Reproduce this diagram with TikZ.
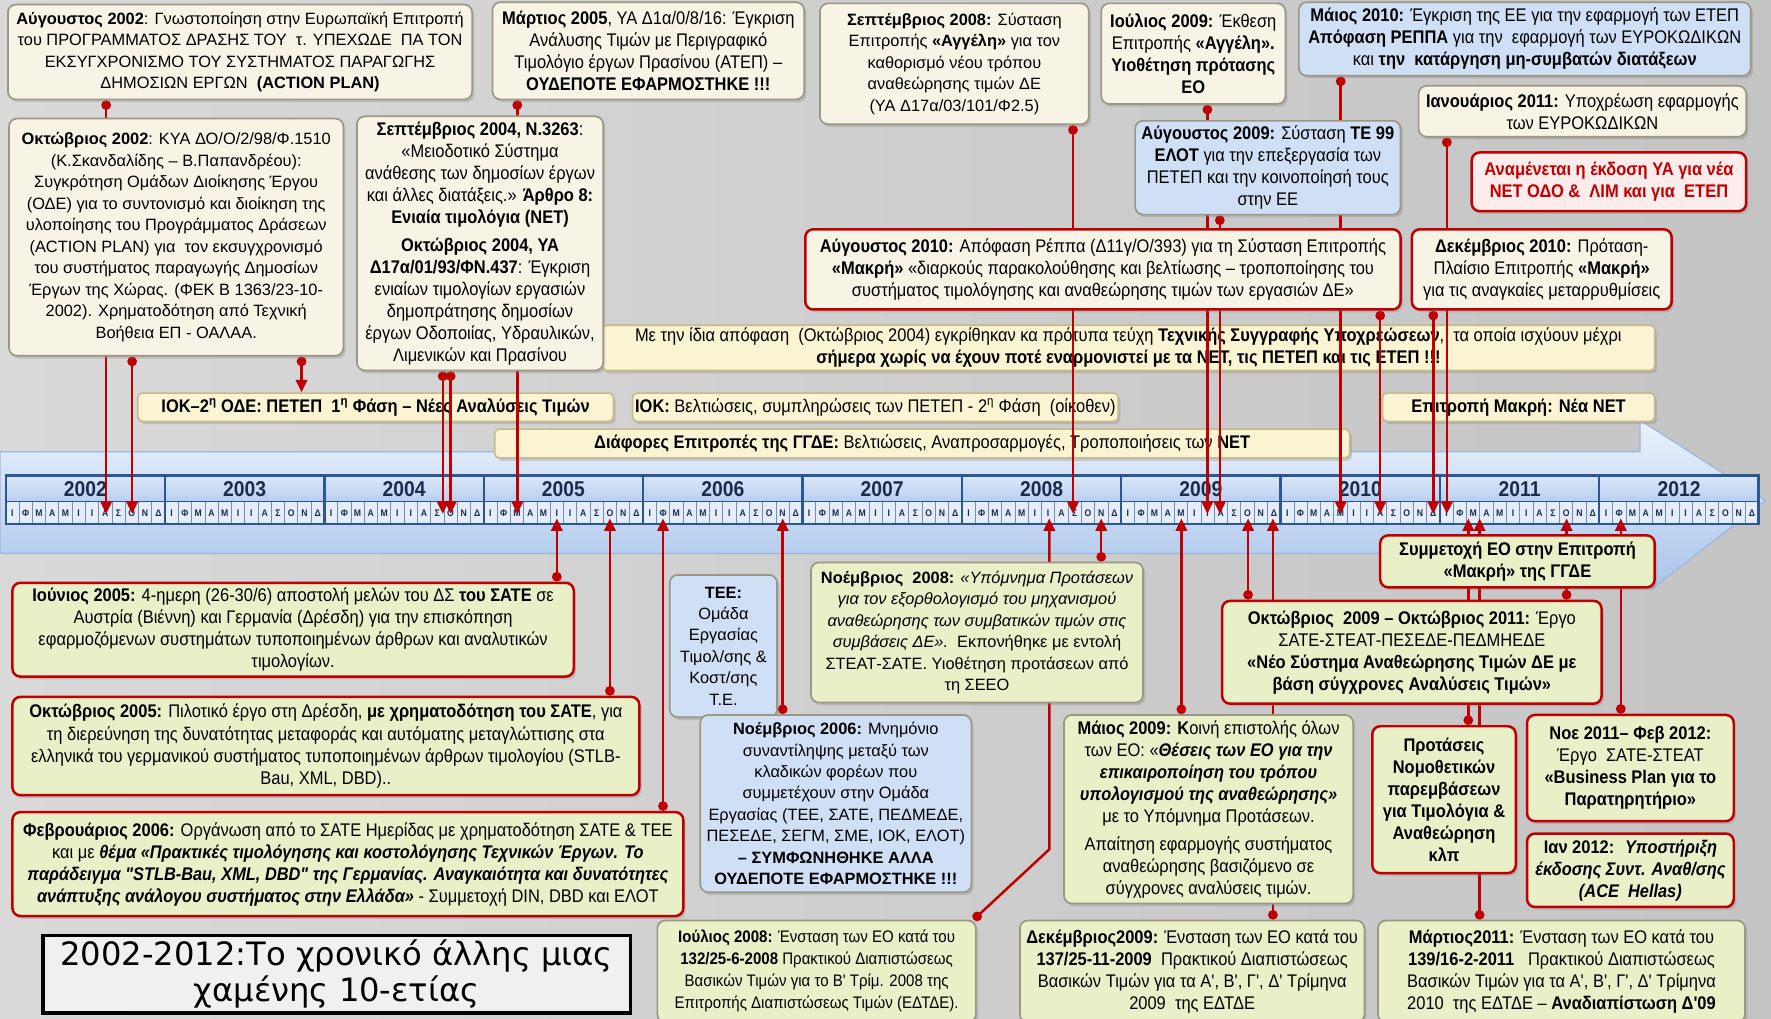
\documentclass[tikz,border=0pt]{standalone}
\usepackage{fontspec}
\setmainfont{Liberation Sans}
\newfontfamily\nar{Liberation Sans}[FakeStretch=0.9]
\newfontfamily\narbi{Liberation Sans}[FakeStretch=0.895]
\newfontfamily\ttlfont{DejaVu Sans}
\usetikzlibrary{arrows.meta,shadows}
\definecolor{redL}{HTML}{C00000}
\definecolor{bgL}{HTML}{D9D9D9}
\definecolor{bgM}{HTML}{F3F3F3}
\definecolor{bgR}{HTML}{C4C4C4}
\definecolor{creamF}{HTML}{F7F4E6}
\definecolor{greyB}{HTML}{9B9784}
\definecolor{blueF}{HTML}{CFE0F6}
\definecolor{greenF}{HTML}{E9F0C7}
\definecolor{barF}{HTML}{FBF4D2}
\definecolor{barB}{HTML}{C6B98A}
\definecolor{pinkF}{HTML}{FDECEC}
\definecolor{tlTop}{HTML}{EAF2FC}
\definecolor{tlBot}{HTML}{A9C4EA}
\definecolor{tlEdge}{HTML}{9AB6E0}
\definecolor{yrTop}{HTML}{DBE7F8}
\definecolor{yrBot}{HTML}{B9CFF0}
\definecolor{moF}{HTML}{E4EDF9}
\definecolor{navy}{HTML}{1B2A4F}
\definecolor{sepC}{HTML}{2B5797}
\definecolor{moLine}{HTML}{6F8FC0}
\newcommand\fs[2]{\fontsize{#1}{#2}\selectfont}
\newcommand\bfit[1]{{\narbi\bfseries\itshape #1}}
\pgfdeclarelayer{bgl}
\pgfdeclarelayer{barl}
\pgfdeclarelayer{linel}
\pgfsetlayers{bgl,barl,linel,main}
\begin{document}
\begin{tikzpicture}[x=1pt,y=-1pt,
  box/.style={rounded corners=7pt, line width=1.5pt, align=center, inner sep=1pt,
    drop shadow={opacity=0.3,shadow xshift=2pt,shadow yshift=-2.5pt}},
  cream/.style={box, fill=creamF, draw=greyB},
  blueb/.style={box, fill=blueF, draw=greyB},
  greenG/.style={box, fill=greenF, draw=greyB},
  greenR/.style={box, fill=greenF, draw=redL, line width=2.2pt},
  creamR/.style={box, fill=creamF, draw=redL, line width=2.2pt},
  bar/.style={box, rounded corners=4pt, fill=barF, draw=barB, line width=1.4pt},
  rg/.style={font=\fs{14.5}{19}},
  nr/.style={font=\nar\fs{16.2}{19.5}},
  con/.style={draw=redL, line width=2.2pt},
  arr/.style={con, {Circle[length=8.5pt]}-{Triangle[width=10pt,length=11pt]}},
  mo/.style={font=\nar\bfseries\fs{8.5}{8.5}, text=navy, inner sep=0pt},
  yr/.style={font=\nar\bfseries\fs{19}{19}, text=navy, inner sep=0pt},
  sep/.style={draw=sepC, line width=2pt}
]
\useasboundingbox (0,0) rectangle (1568,902);

\begin{pgfonlayer}{bgl}
\shade[left color=bgL, middle color=bgM, right color=bgR] (0,0) rectangle (1568,902);
\shade[top color=tlTop, bottom color=tlBot, draw=tlEdge, line width=1pt]
  (0,400) -- (1452,400) -- (1452,372) -- (1563,443) -- (1462,522) -- (1462,490) -- (0,490) -- cycle;
\shade[top color=yrTop, bottom color=yrBot] (5,421) rectangle (1557,444);
\fill[moF] (5,444) rectangle (1557,464);
\foreach \i in {1,...,131} \draw[moLine, line width=0.6pt] ({5+\i*11.758},444) -- ++(0,20);
\foreach \y in {0,...,10} {
  \foreach \m/\l in {1/Ι,2/Φ,3/Μ,4/Α,5/Μ,6/Ι,7/Ι,8/Α,9/Σ,10/Ο,11/Ν,12/Δ}
    \node[mo] (m\y-\m) at ({5+\y*141.1+(\m-0.5)*11.758},454.5) {\l};
}
\foreach \y/\yr in {0/2002,1/2003,2/2004,3/2005,4/2006,5/2007,6/2008,7/2009,8/2010,9/2011,10/2012}
  \node[yr] (y\yr) at ({5+\y*141.1+70.55},433) {\yr};
\draw[sepC, line width=1pt] (5,444) -- (1557,444);
\foreach \y in {1,...,10} \draw[sep] ({5+\y*141.1},421) -- ++(0,43);
\draw[sep] (5,421) rectangle (1557,464);
\end{pgfonlayer}

% timeline tips
\coordinate (tAug02) at (94,455);
\coordinate (tOct02) at (117,455);
\coordinate (tIok) at (267,0);
\coordinate (tSep04) at (392,455);
\coordinate (tOct04) at (399,455);
\coordinate (tMar05) at (458,455);
\coordinate (tSep08) at (950,455);
\coordinate (tJul09) at (1069,455);
\coordinate (tAug09) at (1080,455);
\coordinate (tMay10) at (1187,455);
\coordinate (tAug10) at (1222,455);
\coordinate (tDec10) at (1269,455);
\coordinate (tJan11) at (1281,455);
\coordinate (bJun05) at (493,459);
\coordinate (bOct05) at (540,459);
\coordinate (bFeb06) at (587,459);
\coordinate (bNov06) at (693,459);
\coordinate (bJul08) at (929,459);
\coordinate (jbend) at (929,752);
\coordinate (jdot) at (862,0);
\coordinate (bNov08) at (975,459);
\coordinate (bMay09) at (1046,459);
\coordinate (bOct09) at (1105,459);
\coordinate (bDec09) at (1127,459);
\coordinate (bFeb11) at (1300,459);
\coordinate (bMar11) at (1310,459);
\coordinate (bOct11) at (1387,459);
\coordinate (bFeb12) at (1435,459);

% ---------- top boxes ----------
\node[cream, rg, minimum width=411, minimum height=84] (aug02) at (212.5,46) {%
\textbf{Αύγουστος 2002}: Γνωστοποίηση στην Ευρωπαϊκή Επιτροπή\\
του ΠΡΟΓΡΑΜΜΑΤΟΣ ΔΡΑΣΗΣ ΤΟΥ \ τ. ΥΠΕΧΩΔΕ \ ΠΑ ΤΟΝ\\
ΕΚΣΥΓΧΡΟΝΙΣΜΟ ΤΟΥ ΣΥΣΤΗΜΑΤΟΣ ΠΑΡΑΓΩΓΗΣ\\
ΔΗΜΟΣΙΩΝ ΕΡΓΩΝ \ \textbf{(ACTION PLAN)}};

\node[cream, rg, minimum width=296, minimum height=210] (oct02) at (156,210) {%
\textbf{Οκτώβριος 2002}: ΚΥΑ ΔΟ/Ο/2/98/Φ.1510\\
(Κ.Σκανδαλίδης – Β.Παπανδρέου):\\
Συγκρότηση Ομάδων Διοίκησης Έργου\\
(ΟΔΕ) για το συντονισμό και διοίκηση της\\
υλοποίησης του Προγράμματος Δράσεων\\
(ACTION PLAN) για \ τον εκσυγχρονισμό\\
του συστήματος παραγωγής Δημοσίων\\
Έργων της Χώρας. (ΦΕΚ Β 1363/23-10-\\
2002). Χρηματοδότηση από Τεχνική\\
Βοήθεια ΕΠ - ΟΑΛΑΑ.};

\node[cream, nr, minimum width=276, minimum height=86] (mar05) at (574,45) {%
\textbf{Μάρτιος 2005}, ΥΑ Δ1α/0/8/16: Έγκριση\\
Ανάλυσης Τιμών με Περιγραφικό\\
Τιμολόγιο έργων Πρασίνου (ΑΤΕΠ) –\\
\textbf{ΟΥΔΕΠΟΤΕ ΕΦΑΡΜΟΣΤΗΚΕ !!!}};

\node[cream, nr, minimum width=218, minimum height=225] (sep04) at (425,215.5) {%
\textbf{Σεπτέμβριος 2004, Ν.3263}:\\
«Μειοδοτικό Σύστημα\\
ανάθεσης των δημοσίων έργων\\
και άλλες διατάξεις.» \textbf{Άρθρο 8:}\\
\textbf{Ενιαία τιμολόγια (ΝΕΤ)}\\[5pt]
\textbf{Οκτώβριος 2004, ΥΑ}\\
\textbf{Δ17α/01/93/ΦΝ.437}: Έγκριση\\
ενιαίων τιμολογίων εργασιών\\
δημοπράτησης δημοσίων\\
έργων Οδοποιίας, Υδραυλικών,\\
Λιμενικών και Πρασίνου};

\node[cream, rg, minimum width=238, minimum height=107] (sep08) at (845,56.5) {%
\textbf{Σεπτέμβριος 2008:} Σύσταση\\
Επιτροπής \textbf{«Αγγέλη»} για τον\\
καθορισμό νέου τρόπου\\
αναθεώρησης τιμών ΔΕ\\
(ΥΑ Δ17α/03/101/Φ2.5)};

\node[cream, nr, minimum width=163, minimum height=89] (jul09) at (1056.5,47.5) {%
\textbf{Ιούλιος 2009:} Έκθεση\\
Επιτροπής \textbf{«Αγγέλη».}\\
\textbf{Υιοθέτηση πρότασης}\\
\textbf{ΕΟ}};

\node[blueb, nr, minimum width=400, minimum height=65] (may10) at (1350,34.5) {%
\textbf{Μάιος 2010:} Έγκριση της ΕΕ για την εφαρμογή των ΕΤΕΠ\\
\textbf{Απόφαση ΡΕΠΠΑ} για την \ εφαρμογή των ΕΥΡΟΚΩΔΙΚΩΝ\\
και \textbf{την \ κατάργηση μη-συμβατών διατάξεων}};

\node[cream, nr, minimum width=290, minimum height=45] (jan11) at (1401,98.5) {%
\textbf{Ιανουάριος 2011:} Υποχρέωση εφαρμογής\\
των ΕΥΡΟΚΩΔΙΚΩΝ};

\node[blueb, nr, minimum width=235, minimum height=83] (aug09) at (1122.5,148.5) {%
\textbf{Αύγουστος 2009:} Σύσταση \textbf{ΤΕ 99}\\
\textbf{ΕΛΟΤ} για την επεξεργασία των\\
ΠΕΤΕΠ και την κοινοποίησή τους\\
στην ΕΕ};

\node[box, fill=pinkF, draw=redL, line width=2.2pt, text=redL, font=\nar\bfseries\fs{16.2}{19.5},
  minimum width=243, minimum height=52] (anam) at (1424.5,161) {%
Αναμένεται η έκδοση ΥΑ για νέα\\
ΝΕΤ ΟΔΟ \& \ ΛΙΜ και για \ ΕΤΕΠ};

\node[creamR, nr, minimum width=527, minimum height=71] (aug10) at (976.5,238.5) {%
\textbf{Αύγουστος 2010:} Απόφαση Ρέππα (Δ11γ/Ο/393) για τη Σύσταση Επιτροπής\\
\textbf{«Μακρή»} «διαρκούς παρακολούθησης και βελτίωσης – τροποποίησης του\\
συστήματος τιμολόγησης και αναθεώρησης τιμών των εργασιών ΔΕ»};

\node[creamR, nr, minimum width=230, minimum height=71] (dec10) at (1365,238.5) {%
\textbf{Δεκέμβριος 2010:} Πρόταση-\\
Πλαίσιο Επιτροπής \textbf{«Μακρή»}\\
για τις αναγκαίες μεταρρυθμίσεις};

\begin{pgfonlayer}{barl}
\node[bar, nr, minimum width=932, minimum height=40] (same) at (999,308) {%
Με την ίδια απόφαση \ (Οκτώβριος 2004) εγκρίθηκαν κα πρότυπα τεύχη \textbf{Τεχνικής Συγγραφής Υποχρεώσεων}, \ τα οποία ισχύουν μέχρι\\
\textbf{σήμερα χωρίς να έχουν ποτέ εναρμονιστεί με τα ΝΕΤ, τις ΠΕΤΕΠ και τις ΕΤΕΠ !!!}};
\node[bar, nr, minimum width=421, minimum height=25] (iok1) at (332.5,360.5) {%
\textbf{ΙΟΚ–2\textsuperscript{η} ΟΔΕ: ΠΕΤΕΠ \ 1\textsuperscript{η} Φάση – Νέες Αναλύσεις Τιμών}};
\node[bar, nr, minimum width=430, minimum height=25] (iok2) at (775,360.5) {%
\textbf{ΙΟΚ:} Βελτιώσεις, συμπληρώσεις των ΠΕΤΕΠ - 2\textsuperscript{η} Φάση \ (οίκοθεν)};
\node[bar, nr, minimum width=241, minimum height=25] (makri) at (1344.5,360.5) {%
\textbf{Επιτροπή Μακρή: Νέα ΝΕΤ}};
\node[bar, nr, minimum width=757, minimum height=25.5] (diaf) at (816.5,392.7) {%
\textbf{Διάφορες Επιτροπές της ΓΓΔΕ:} Βελτιώσεις, Αναπροσαρμογές, Τροποποιήσεις των \textbf{ΝΕΤ}};
\end{pgfonlayer}

% ---------- bottom boxes ----------
\node[greenR, nr, minimum width=497, minimum height=83] (jun05) at (259.5,557.5) {%
\textbf{Ιούνιος 2005:} 4-ημερη (26-30/6) αποστολή μελών του ΔΣ \textbf{του ΣΑΤΕ} σε\\
Αυστρία (Βιέννη) και Γερμανία (Δρέσδη) για την επισκόπηση\\
εφαρμοζόμενων συστημάτων τυποποιημένων άρθρων και αναλυτικών\\
τιμολογίων.};

\node[greenR, nr, minimum width=555, minimum height=87] (oct05) at (288.5,660.5) {%
\textbf{Οκτώβριος 2005:} Πιλοτικό έργο στη Δρέσδη, \textbf{με χρηματοδότηση του ΣΑΤΕ}, για\\
τη διερεύνηση της δυνατότητας μεταφοράς και αυτόματης μεταγλώττισης στα\\
ελληνικά του γερμανικού συστήματος τυποποιημένων άρθρων τιμολογίου (STLB-\\
Bau, XML, DBD)..};

\node[greenR, nr, minimum width=594, minimum height=92] (feb06) at (308,765) {%
\textbf{Φεβρουάριος 2006:} Οργάνωση από το ΣΑΤΕ Ημερίδας με χρηματοδότηση ΣΑΤΕ \& ΤΕΕ\\
και με \bfit{θέμα «Πρακτικές τιμολόγησης και κοστολόγησης Τεχνικών Έργων. Το}\\
\bfit{παράδειγμα "STLB-Bau, XML, DBD" της Γερμανίας. Αναγκαιότητα και δυνατότητες}\\
\bfit{ανάπτυξης ανάλογου συστήματος στην Ελλάδα»} - Συμμετοχή DIN, DBD και ΕΛΟΤ};

\node[blueb, rg, minimum width=95, minimum height=126] (tee) at (640.5,572) {%
\textbf{ΤΕΕ:}\\ Ομάδα\\ Εργασίας\\ Τιμολ/σης \&\\ Κοστ/σης\\ Τ.Ε.};

\node[blueb, rg, minimum width=240, minimum height=157] (nov06) at (740,711.5) {%
\textbf{Νοέμβριος 2006:} Μνημόνιο\\
συναντίληψης μεταξύ των\\
κλαδικών φορέων που\\
συμμετέχουν στην Ομάδα\\
Εργασίας (ΤΕΕ, ΣΑΤΕ, ΠΕΔΜΕΔΕ,\\
ΠΕΣΕΔΕ, ΣΕΓΜ, ΣΜΕ, ΙΟΚ, ΕΛΟΤ)\\
\textbf{– ΣΥΜΦΩΝΗΘΗΚΕ ΑΛΛΑ}\\
\textbf{ΟΥΔΕΠΟΤΕ ΕΦΑΡΜΟΣΤΗΚΕ !!!}};

\node[greenG, rg, minimum width=294, minimum height=124] (nov08) at (865,560) {%
\textbf{Νοέμβριος \ 2008:} \textit{«Υπόμνημα Προτάσεων}\\
\textit{για τον εξορθολογισμό του μηχανισμού}\\
\textit{αναθεώρησης των συμβατικών τιμών στις}\\
\textit{συμβάσεις ΔΕ».} \ Εκπονήθηκε με εντολή\\
ΣΤΕΑΤ-ΣΑΤΕ. Υιοθέτηση προτάσεων από\\
τη ΣΕΕΟ};

\node[greenG, nr, minimum width=256, minimum height=167] (may09) at (1070,716.5) {%
\textbf{Μάιος 2009: Κ}οινή επιστολής όλων\\
των ΕΟ: «\bfit{Θέσεις των ΕΟ για την}\\
\bfit{επικαιροποίηση του τρόπου}\\
\bfit{υπολογισμού της αναθεώρησης»}\\
με το Υπόμνημα Προτάσεων.\\[5pt]
Απαίτηση εφαρμογής συστήματος\\
αναθεώρησης βασιζόμενο σε\\
σύγχρονες αναλύσεις τιμών.};

\node[greenR, nr, minimum width=336, minimum height=91] (oct0911) at (1250,577.5) {%
\textbf{Οκτώβριος \ 2009 – Οκτώβριος 2011:} Έργο\\
ΣΑΤΕ-ΣΤΕΑΤ-ΠΕΣΕΔΕ-ΠΕΔΜΗΕΔΕ\\
\textbf{«Νέο Σύστημα Αναθεώρησης Τιμών ΔΕ με}\\
\textbf{βάση σύγχρονες Αναλύσεις Τιμών»}};

\node[greenR, nr, minimum width=243, minimum height=46] (symm) at (1343.5,497) {%
\textbf{Συμμετοχή ΕΟ στην Επιτροπή}\\
\textbf{«Μακρή» της ΓΓΔΕ}};

\node[greenR, nr, font=\nar\bfseries\fs{16.2}{19.5}, minimum width=127, minimum height=130] (prot) at (1278.5,708) {%
Προτάσεις\\ Νομοθετικών\\ παρεμβάσεων\\ για Τιμολόγια \&\\ Αναθεώρηση\\ κλπ};

\node[greenR, nr, minimum width=183, minimum height=94] (noe11) at (1443.5,680) {%
\textbf{Νοε 2011– Φεβ 2012:}\\
Έργο \ ΣΑΤΕ-ΣΤΕΑΤ\\
\textbf{«Business Plan για το}\\
\textbf{Παρατηρητήριο»}};

\node[greenR, nr, minimum width=183, minimum height=65] (ian12) at (1443.5,770.5) {%
\textbf{Ιαν 2012:} \ \bfit{Υποστήριξη}\\
\bfit{έκδοσης Συντ. Αναθ/σης}\\
\bfit{(ACE \ Hellas)}};

\node[greenG, nr, font=\nar\fs{14.8}{19.5}, minimum width=282, minimum height=90] (jul08) at (723,860) {%
\textbf{Ιούλιος 2008:} Ένσταση των ΕΟ κατά του\\
\textbf{132/25-6-2008} Πρακτικού Διαπιστώσεως\\
Βασικών Τιμών για το Β' Τρίμ. 2008 της\\
Επιτροπής Διαπιστώσεως Τιμών (ΕΔΤΔΕ).};

\node[greenG, nr, minimum width=305, minimum height=90] (dec09) at (1055.5,860) {%
\textbf{Δεκέμβριος2009:} Ένσταση των ΕΟ κατά του\\
\textbf{137/25-11-2009} \ Πρακτικού Διαπιστώσεως\\
Βασικών Τιμών για τα Α', Β', Γ', Δ' Τρίμηνα\\
2009 \ της ΕΔΤΔΕ};

\node[greenG, nr, minimum width=325, minimum height=90] (mar11) at (1382.5,860) {%
\textbf{Μάρτιος2011:} Ένσταση των ΕΟ κατά του\\
\textbf{139/16-2-2011} \ \ Πρακτικού Διαπιστώσεως\\
Βασικών Τιμών για τα Α', Β', Γ', Δ' Τρίμηνα\\
2010 \ της ΕΔΤΔΕ – \textbf{Αναδιαπίστωση Δ'09}};

\node[draw=black, line width=3pt, fill=white!94!black, minimum width=520, minimum height=69,
  align=center, inner sep=0pt, font=\ttlfont\fs{28.5}{32}] (title) at (298,862.5) {%
2002-2012:Το χρονικό άλλης μιας\\ χαμένης 10-ετίας};

% ---------- connectors ----------
\begin{pgfonlayer}{linel}
\draw[arr] (aug02.south -| tAug02) -- (tAug02);
\draw[arr] (oct02.south -| tOct02) -- (tOct02);
\draw[arr] (oct02.south -| tIok) -- (iok1.north -| tIok);
\draw[arr] (sep04.south -| tSep04) -- (tSep04);
\draw[arr] (sep04.south -| tOct04) -- (tOct04);
\draw[arr] (mar05.south -| tMar05) -- (tMar05);
\draw[arr] (sep08.south -| tSep08) -- (tSep08);
\draw[arr] (jul09.south -| tJul09) -- (tJul09);
\draw[arr] (aug09.south -| tAug09) -- (tAug09);
\draw[arr] (may10.south -| tMay10) -- (tMay10);
\draw[arr] (aug10.south -| tAug10) -- (tAug10);
\draw[arr] (dec10.south -| tDec10) -- (tDec10);
\draw[arr] (jan11.south -| tJan11) -- (tJan11);
\draw[arr] (jun05.north -| bJun05) -- (bJun05);
\draw[arr] (oct05.north -| bOct05) -- (bOct05);
\draw[arr] (feb06.north -| bFeb06) -- (bFeb06);
\draw[arr] (nov06.north -| bNov06) -- (bNov06);
\draw[arr] (jul08.north -| jdot) -- (jbend) -- (bJul08);
\draw[arr] (nov08.north -| bNov08) -- (bNov08);
\draw[arr] (may09.north -| bMay09) -- (bMay09);
\draw[arr] (oct0911.north -| bOct09) -- (bOct09);
\draw[arr] (dec09.north -| bDec09) -- (bDec09);
\draw[arr] (prot.north -| bFeb11) -- (bFeb11);
\draw[arr] (mar11.north -| bMar11) -- (bMar11);
\draw[arr] (oct0911.north -| bOct11) -- (bOct11);
\draw[arr] (noe11.north -| bFeb12) -- (bFeb12);
\end{pgfonlayer}
\end{tikzpicture}
\end{document}
